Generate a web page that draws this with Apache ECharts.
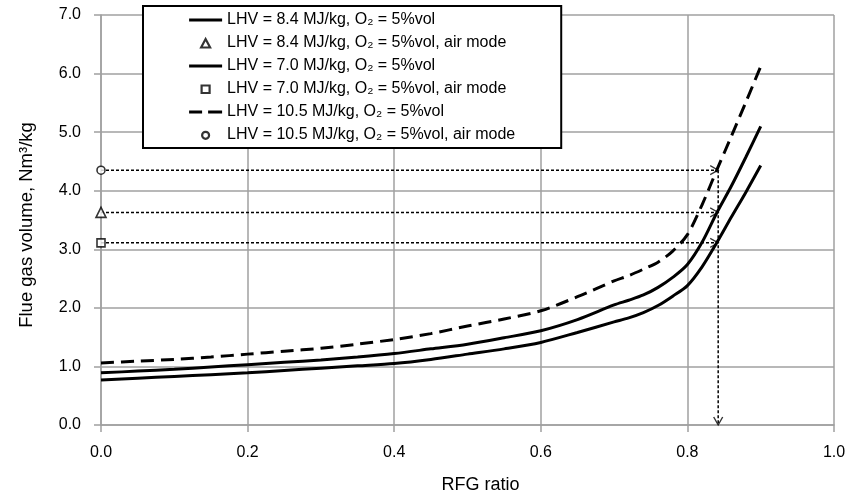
<!DOCTYPE html>
<html>
<head>
<meta charset="utf-8">
<script src="https://cdn.jsdelivr.net/npm/echarts@6/dist/echarts.min.js"></script>
<style>
  html, body { margin: 0; padding: 0; background: #fff; }
  #chart { width: 851px; height: 501px; }
</style>
</head>
<body>
<div id="chart"></div>
<script>
// RFG ratio sample points shared by the three curves
const rfgRatio = [0, 0.05, 0.1, 0.15, 0.2, 0.25, 0.3, 0.35, 0.4, 0.45, 0.5, 0.55, 0.6, 0.65,
                  0.7, 0.72, 0.74, 0.76, 0.78, 0.8, 0.82, 0.84, 0.86, 0.88, 0.9];

// Flue gas volume, Nm3/kg
const volLhv84 = [0.89, 0.92, 0.95, 0.99, 1.03, 1.07, 1.11, 1.16, 1.22, 1.30, 1.38, 1.49, 1.61, 1.80,
                  2.05, 2.13, 2.22, 2.35, 2.52, 2.74, 3.12, 3.62, 4.08, 4.58, 5.10];
const volLhv70 = [0.77, 0.80, 0.83, 0.86, 0.89, 0.93, 0.97, 1.01, 1.05, 1.12, 1.21, 1.30, 1.41, 1.58,
                  1.76, 1.83, 1.92, 2.04, 2.20, 2.38, 2.70, 3.11, 3.55, 3.98, 4.43];
const volLhv105 = [1.06, 1.09, 1.12, 1.16, 1.21, 1.26, 1.31, 1.38, 1.46, 1.56, 1.69, 1.81, 1.95, 2.19,
                   2.46, 2.55, 2.66, 2.78, 2.97, 3.25, 3.76, 4.35, 4.93, 5.52, 6.12];

// Air mode operating points (RFG ratio = 0)
const airModeRatio = 0;
const airLhv84 = 3.63;
const airLhv70 = 3.11;
const airLhv105 = 4.35;

// RFG ratio giving the same flue gas volume as air mode
const equivRatio = 0.842;

const seriesNames = [
  'LHV = 8.4 MJ/kg, O\u2082 = 5%vol',
  'LHV = 8.4 MJ/kg, O\u2082 = 5%vol, air mode',
  'LHV = 7.0 MJ/kg, O\u2082 = 5%vol',
  'LHV = 7.0 MJ/kg, O\u2082 = 5%vol, air mode',
  'LHV = 10.5 MJ/kg, O\u2082 = 5%vol',
  'LHV = 10.5 MJ/kg, O\u2082 = 5%vol, air mode'
];

const FONT = 'Liberation Sans, Arial, sans-serif';
const GRID_COLOR = '#a0a0a0';
const DASH = [13, 7];

function pairs(xs, ys) { return xs.map((x, i) => [x, ys[i]]); }

function curve(name, values, dashed) {
  return {
    name: name,
    type: 'line',
    data: pairs(rfgRatio, values),
    smooth: 0.3,
    symbol: 'none',
    lineStyle: { color: '#000', width: 3, type: dashed ? DASH : 'solid' },
    itemStyle: { color: '#000' },
    z: 4
  };
}

function airPoint(name, y, symbol, size) {
  return {
    name: name,
    type: 'scatter',
    data: [[airModeRatio, y]],
    symbol: symbol,
    symbolSize: size,
    itemStyle: { color: '#fff', borderColor: '#000', borderWidth: 1.6 },
    z: 6
  };
}

// dotted guide from an air-mode point across to the equivalent RFG ratio
function guide(y) {
  return {
    type: 'line',
    data: [[airModeRatio, y], [equivRatio, y]],
    symbol: 'none',
    silent: true,
    lineStyle: { color: '#000', width: 1.5, type: [3, 2] },
    z: 3
  };
}

// open arrowheads (chevrons) at the guide ends
const headRight = 'path://M0,0 L8,4.5 L0,9';
const headDown = 'path://M0,0 L4.5,8 L9,0';

function arrowHead(pt, path, size, offset) {
  return {
    type: 'scatter',
    data: [pt],
    symbol: path,
    symbolSize: size,
    symbolOffset: offset,
    silent: true,
    itemStyle: { color: 'none', borderColor: '#000', borderWidth: 1.3 },
    z: 5
  };
}

// legend icons drawn inside a 33x10 box
const legendSolid = 'path://M0,0M33,10M0,3.5L33,3.5L33,6.5L0,6.5Z';
const legendDashed = 'path://M0,0M33,10M0,3.5L13,3.5L13,6.5L0,6.5ZM19,3.5L33,3.5L33,6.5L19,6.5Z';
const legendTriangle = 'path://M0,0M33,10M12,9.5L16.5,1L21,9.5Z';
const legendSquare = 'path://M0,0M33,10M12.5,1.5L20.5,1.5L20.5,9L12.5,9Z';
const legendCircle = 'path://M0,0M33,10M20,5.3A3.5,3.5,0,1,1,13,5.3A3.5,3.5,0,1,1,20,5.3Z';

const lineLegendStyle = { color: '#000', borderWidth: 0 };
const markerLegendStyle = { color: '#fff', borderColor: '#000', borderWidth: 2.2 };

const chart = echarts.init(document.getElementById('chart'), null, { renderer: 'canvas' });

chart.setOption({
  animation: false,
  backgroundColor: '#fff',
  textStyle: { fontFamily: FONT },
  grid: { left: 101, right: 17, top: 15, bottom: 76, containLabel: false },
  legend: {
    orient: 'vertical',
    left: 143,
    top: 6,
    data: [
      { name: seriesNames[0], icon: legendSolid, itemStyle: lineLegendStyle },
      { name: seriesNames[1], icon: legendTriangle, itemStyle: markerLegendStyle },
      { name: seriesNames[2], icon: legendSolid, itemStyle: lineLegendStyle },
      { name: seriesNames[3], icon: legendSquare, itemStyle: markerLegendStyle },
      { name: seriesNames[4], icon: legendDashed, itemStyle: lineLegendStyle },
      { name: seriesNames[5], icon: legendCircle, itemStyle: markerLegendStyle }
    ],
    itemWidth: 33,
    itemHeight: 10,
    itemGap: 7,
    padding: [6, 46, 5, 45],
    borderColor: '#000',
    borderWidth: 2,
    backgroundColor: '#fff',
    textStyle: { fontFamily: FONT, fontSize: 16, color: '#000' },
    selectedMode: false
  },
  xAxis: {
    type: 'value',
    min: 0,
    max: 1,
    interval: 0.2,
    name: 'RFG ratio',
    nameLocation: 'middle',
    nameGap: 51,
    nameTextStyle: { fontFamily: FONT, fontSize: 18, color: '#000', padding: [0, 0, 0, 26] },
    axisLine: { show: true, lineStyle: { color: GRID_COLOR, width: 1.5 } },
    axisTick: { show: true, length: 7, lineStyle: { color: GRID_COLOR, width: 1.5 } },
    axisLabel: { margin: 20, fontSize: 16, color: '#000', formatter: v => v.toFixed(1) },
    splitLine: { show: true, lineStyle: { color: GRID_COLOR, width: 1.5 } }
  },
  yAxis: {
    type: 'value',
    min: 0,
    max: 7,
    interval: 1,
    name: 'Flue gas volume, Nm\u00B3/kg',
    nameLocation: 'middle',
    nameGap: 65,
    nameTextStyle: { fontFamily: FONT, fontSize: 18.5, color: '#000', padding: [0, 10, 0, 0] },
    axisLine: { show: true, lineStyle: { color: GRID_COLOR, width: 1.5 } },
    axisTick: { show: true, length: 7, lineStyle: { color: GRID_COLOR, width: 1.5 } },
    axisLabel: { margin: 20, fontSize: 16, color: '#000', formatter: v => v.toFixed(1) },
    splitLine: { show: true, lineStyle: { color: GRID_COLOR, width: 1.5 } }
  },
  series: [
    guide(airLhv105),
    guide(airLhv84),
    guide(airLhv70),
    {
      type: 'line',
      data: [[equivRatio, airLhv105], [equivRatio, 0]],
      symbol: 'none',
      silent: true,
      lineStyle: { color: '#000', width: 1.5, type: [3, 2] },
      z: 3
    },
    arrowHead([equivRatio, airLhv105], headRight, [8, 9], [-4, 0]),
    arrowHead([equivRatio, airLhv84], headRight, [8, 9], [-4, 0]),
    arrowHead([equivRatio, airLhv70], headRight, [8, 9], [-4, 0]),
    arrowHead([equivRatio, 0], headDown, [9, 8], [0, -4]),
    curve(seriesNames[0], volLhv84, false),
    airPoint(seriesNames[1], airLhv84, 'triangle', 10),
    curve(seriesNames[2], volLhv70, false),
    airPoint(seriesNames[3], airLhv70, 'rect', 8),
    curve(seriesNames[4], volLhv105, true),
    airPoint(seriesNames[5], airLhv105, 'circle', 8)
  ]
});
</script>
</body>
</html>
